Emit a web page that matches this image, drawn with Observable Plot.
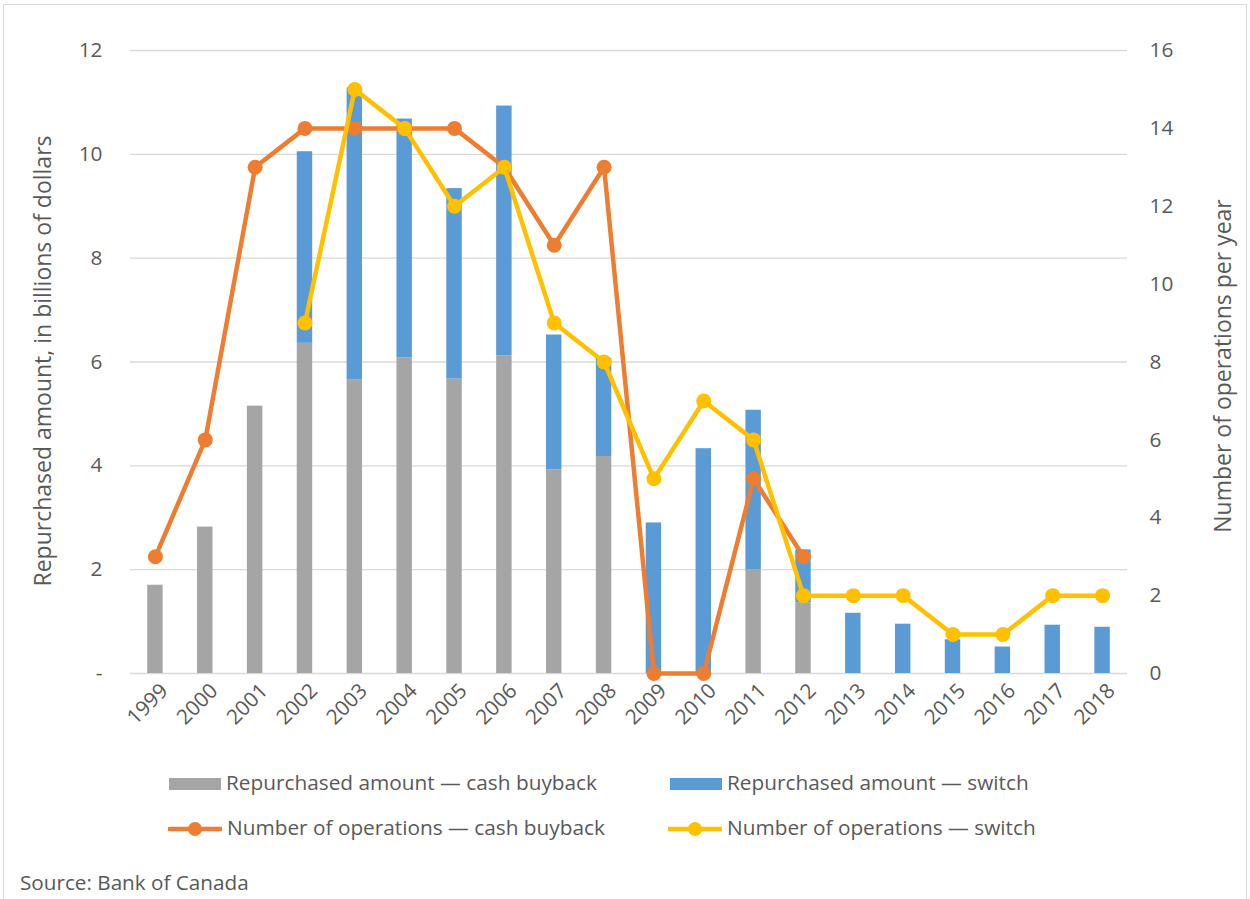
<!DOCTYPE html>
<html>
<head>
<meta charset="utf-8">
<script src="https://cdn.jsdelivr.net/npm/d3@7"></script>
<script src="https://cdn.jsdelivr.net/npm/@observablehq/plot@0.6"></script>
<style>
  body { margin: 0; background: #fff; }
  #wrap { position: relative; width: 1250px; height: 899px; font-family: "Open Sans", sans-serif; color: #595959; overflow: hidden; }
  #frame { position: absolute; left: 3px; top: 4px; width: 1244px; height: 900px; border: 1.5px solid #d9d9d9; box-sizing: border-box; }
  #chart { position: absolute; left: 0; top: 0; }
  .ytitle { position: absolute; font-size: 23px; white-space: nowrap; transform: translate(-50%, -50%) rotate(-90deg); }
  .leg { position: absolute; font-size: 20.8px; white-space: nowrap; line-height: 1; }
  .leg svg { vertical-align: middle; margin-right: 5px; }
  #source { position: absolute; left: 20px; top: 868px; font-size: 20.7px; }
</style>
</head>
<body>
<div id="wrap">
  <div id="frame"></div>
  <div id="chart"></div>
</div>
<script>
// ---- data ----
const years = ["1999","2000","2001","2002","2003","2004","2005","2006","2007","2008","2009","2010","2011","2012","2013","2014","2015","2016","2017","2018"];
const cashAmount =   [1.70, 2.82, 5.15, 6.36, 5.66, 6.08, 5.67, 6.12, 3.92, 4.18, 0, 0, 2.00, 1.36, 0, 0, 0, 0, 0, 0];
const switchAmount = [0, 0, 0, 3.69, 5.62, 4.60, 3.67, 4.81, 2.60, 1.89, 2.90, 4.33, 3.07, 1.02, 1.16, 0.95, 0.65, 0.51, 0.93, 0.89];
const cashOps =   [3, 6, 13, 14, 14, 14, 14, 13, 11, 13, 0, 0, 5, 3, null, null, null, null, null, null];
const switchOps = [null, null, null, 9, 15, 14, 12, 13, 9, 8, 5, 7, 6, 2, 2, 2, 1, 1, 2, 2];
const leftTicks = [0, 2, 4, 6, 8, 10, 12];
const rightTicks = [0, 2, 4, 6, 8, 10, 12, 14, 16];
const leftMax = 12, rightMax = 16;

const k = leftMax / rightMax; // maps right-axis values onto the left scale
const table = years.map((y, i) => ({
  year: y, cash: cashAmount[i], sw: switchAmount[i],
  top: cashAmount[i] + switchAmount[i],
  cOps: cashOps[i] == null ? null : cashOps[i] * k,
  sOps: switchOps[i] == null ? null : switchOps[i] * k
}));
const cashLine = table.filter(d => d.cOps != null);
const switchLine = table.filter(d => d.sOps != null);

const C_GRAY = "#a5a5a5", C_BLUE = "#5b9bd5", C_ORANGE = "#ed7d31", C_YELLOW = "#ffc000";

const chart = Plot.plot({
  width: 1250,
  height: 760,
  marginLeft: 130,
  marginRight: 123,
  marginTop: 50,
  marginBottom: 87,
  style: { fontFamily: "Open Sans, sans-serif", fontSize: "20.8px", color: "#595959", background: "transparent" },
  x: { type: "band", domain: years, paddingInner: 0.69, paddingOuter: 0.345, round: false, label: null },
  y: { domain: [0, leftMax], label: null },
  marks: [
    Plot.gridY(leftTicks, { stroke: "#d9d9d9", strokeOpacity: 1, strokeWidth: 1.4 }),
    Plot.barY(table, { x: "year", y1: 0, y2: "cash", fill: C_GRAY }),
    Plot.barY(table, { x: "year", y1: "cash", y2: "top", fill: C_BLUE }),
    Plot.line(cashLine, { x: "year", y: "cOps", stroke: C_ORANGE, strokeWidth: 4.5 }),
    Plot.dot(cashLine, { x: "year", y: "cOps", fill: C_ORANGE, r: 7.5 }),
    Plot.line(switchLine, { x: "year", y: "sOps", stroke: C_YELLOW, strokeWidth: 4.5 }),
    Plot.dot(switchLine, { x: "year", y: "sOps", fill: C_YELLOW, r: 7.5 }),
    Plot.axisY(leftTicks, { anchor: "left", tickSize: 0, tickPadding: 28, tickFormat: d => d === 0 ? "-" : d, label: null, fontSize: 20.8 }),
    Plot.axisY(rightTicks.map(d => d * k), { anchor: "right", tickSize: 0, tickPadding: 22, tickFormat: d => Math.round(d / k), label: null, fontSize: 20.8 }),
    Plot.axisX({ tickSize: 0, tickRotate: -45, tickPadding: 14, dx: 9, label: null, fontSize: 20.8 })
  ]
});
document.getElementById("chart").appendChild(chart);

const wrap = document.getElementById("wrap");
function addDiv(cls, html, style) {
  const d = document.createElement("div");
  d.className = cls; d.innerHTML = html;
  Object.assign(d.style, style);
  wrap.appendChild(d);
  return d;
}
addDiv("ytitle", "Repurchased amount, in billions of dollars", { left: "42px", top: "361px" });
addDiv("ytitle", "Number of operations per year", { left: "1222px", top: "366px" });

const rectSw = c => `<svg width="52" height="14"><rect x="0" y="1" width="52" height="12" fill="${c}"/></svg>`;
const lineSw = c => `<svg width="54" height="16"><line x1="1" y1="8" x2="53" y2="8" stroke="${c}" stroke-width="4.5" stroke-linecap="round"/><circle cx="27" cy="8" r="7" fill="${c}"/></svg>`;
const legend = [
  { sw: rectSw(C_GRAY), label: "Repurchased amount — cash buyback", x: 169, y: 783 },
  { sw: rectSw(C_BLUE), label: "Repurchased amount — switch", x: 670, y: 783 },
  { sw: lineSw(C_ORANGE), label: "Number of operations — cash buyback", x: 168, y: 828 },
  { sw: lineSw(C_YELLOW), label: "Number of operations — switch", x: 668, y: 828 }
];
legend.forEach(l => {
  addDiv("leg", l.sw + `<span>${l.label}</span>`, { left: l.x + "px", top: (l.y - 11) + "px" });
});
addDiv("", "Source: Bank of Canada", {}).id = "source";
</script>
</body>
</html>
